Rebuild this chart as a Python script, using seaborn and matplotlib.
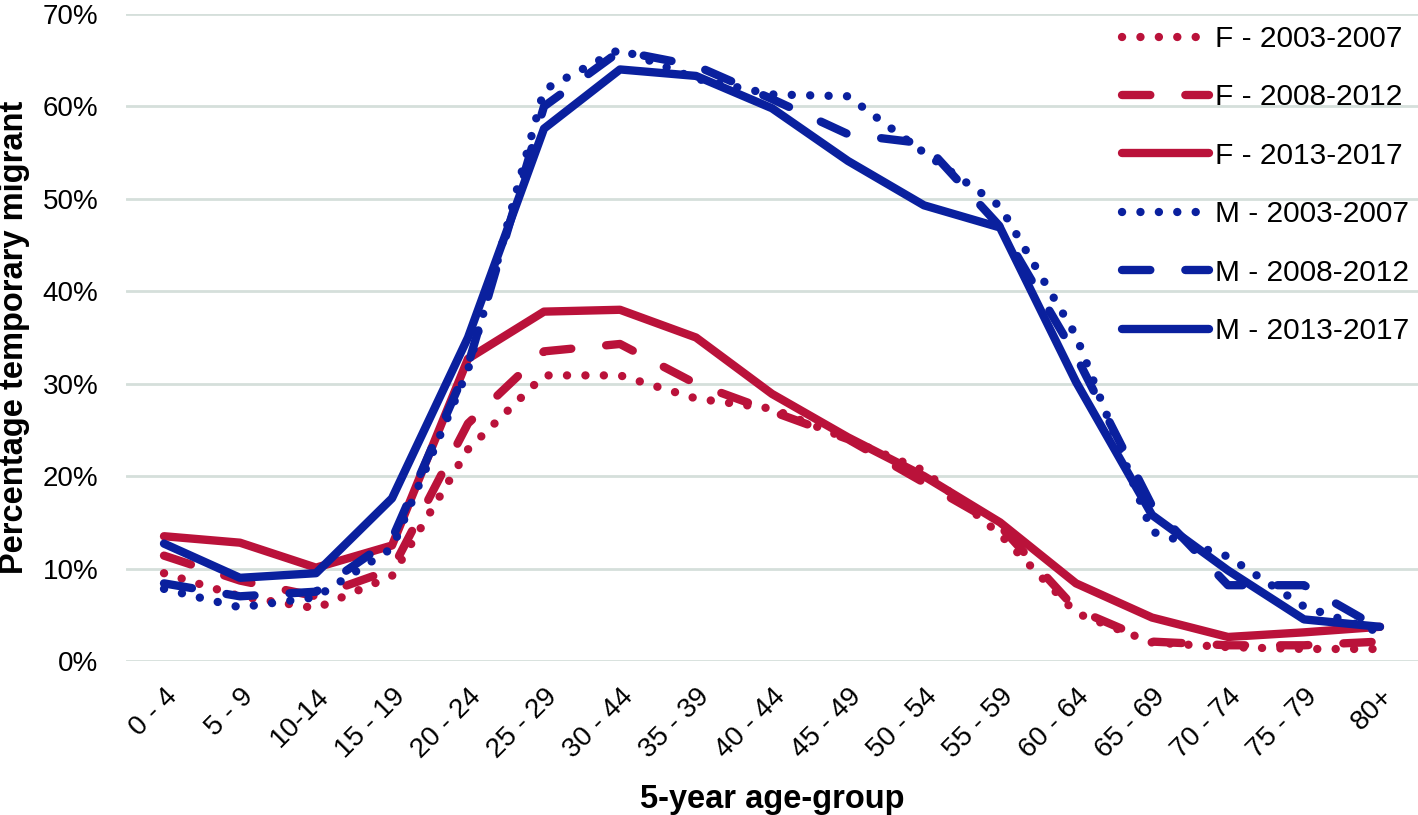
import pandas as pd
import matplotlib
matplotlib.use('Agg')
import matplotlib.pyplot as plt
import seaborn as sns

# Age groups (x axis) - labels as they appear in the source chart
ages = ['0 - 4', '5 - 9', '10-14', '15 - 19', '20 - 24', '25 - 29', '30 - 44',
        '35 - 39', '40 - 44', '45 - 49', '50 - 54', '55 - 59', '60 - 64',
        '65 - 69', '70 - 74', '75 - 79', '80+']

# Percentage temporary migrant
f_2003_2007 = [9.5, 7.0, 5.7, 9.2, 22.9, 30.9, 30.9, 28.4, 27.3, 24.0, 20.6, 13.7, 5.2, 2.0, 1.5, 1.3, 1.3]
f_2008_2012 = [11.4, 8.7, 7.0, 9.9, 25.7, 33.5, 34.3, 30.0, 27.0, 24.0, 19.3, 14.6, 5.6, 2.1, 1.7, 1.7, 2.1]
f_2013_2017 = [13.5, 12.8, 10.1, 12.5, 32.7, 37.8, 38.0, 35.0, 28.9, 24.2, 20.0, 15.0, 8.4, 4.7, 2.6, 3.1, 3.7]
m_2003_2007 = [7.8, 5.8, 6.9, 12.2, 31.5, 61.8, 66.2, 63.0, 61.3, 61.1, 55.0, 49.2, 35.2, 14.0, 11.3, 5.9, 3.1]
m_2008_2012 = [8.4, 7.0, 7.5, 13.2, 32.0, 60.0, 66.0, 64.4, 60.8, 57.0, 56.0, 47.0, 33.0, 16.8, 8.2, 8.2, 3.5]
m_2013_2017 = [12.7, 9.0, 9.5, 17.6, 35.0, 57.6, 64.0, 63.3, 59.8, 54.1, 49.3, 46.9, 30.2, 15.8, 9.8, 4.5, 3.7]

series_names = ['F - 2003-2007', 'F - 2008-2012', 'F - 2013-2017',
                'M - 2003-2007', 'M - 2008-2012', 'M - 2013-2017']
series_values = [f_2003_2007, f_2008_2012, f_2013_2017,
                 m_2003_2007, m_2008_2012, m_2013_2017]

# long-form table for seaborn
rows = []
for name, vals in zip(series_names, series_values):
    for age, v in zip(ages, vals):
        rows.append({'age': age, 'pct': v, 'series': name})
df = pd.DataFrame(rows)

red = '#BA123A'
blue = '#0A209E'
palette = {'F - 2003-2007': red, 'F - 2008-2012': red, 'F - 2013-2017': red,
           'M - 2003-2007': blue, 'M - 2008-2012': blue, 'M - 2013-2017': blue}
dots = (0.01, 2.2)
dash = (3.4, 4.2)
dashes = {'F - 2003-2007': dots, 'F - 2008-2012': dash, 'F - 2013-2017': '',
          'M - 2003-2007': dots, 'M - 2008-2012': dash, 'M - 2013-2017': ''}

sns.set_style('white')
plt.rcParams['font.family'] = ['Liberation Sans', 'DejaVu Sans']
plt.rcParams['text.color'] = 'black'
plt.rcParams['axes.labelcolor'] = 'black'
plt.rcParams['xtick.color'] = 'black'
plt.rcParams['ytick.color'] = 'black'
plt.rcParams['lines.dash_capstyle'] = 'round'
plt.rcParams['lines.solid_capstyle'] = 'round'
plt.rcParams['lines.solid_joinstyle'] = 'round'
plt.rcParams['lines.dash_joinstyle'] = 'round'

fig = plt.figure(figsize=(14.18, 8.15), dpi=100)
ax = fig.add_axes([126 / 1418, 1 - 661 / 815, 1 - 126 / 1418, 647 / 815])

sns.lineplot(data=df, x='age', y='pct', hue='series', style='series',
             hue_order=series_names, style_order=series_names,
             palette=palette, dashes=dashes, linewidth=6.0,
             sort=False, legend=False, ax=ax)

ax.set_xlim(-0.5, len(ages) - 0.5)
ax.set_ylim(0, 70)
ax.set_yticks(range(0, 71, 10))
ax.set_yticklabels([f'{v}%' for v in range(0, 71, 10)])
ax.set_xticks(range(len(ages)))
ax.set_xticklabels(ages, rotation=45, ha='right', va='top', rotation_mode='anchor')
ax.tick_params(axis='y', length=0, pad=20, labelsize=20, labelcolor='black')
ax.tick_params(axis='x', length=0, pad=16, labelsize=20, labelcolor='black')

ax.grid(axis='y', color='#d5dfdb', linewidth=2)
ax.grid(axis='x', visible=False)
ax.set_axisbelow(True)
for s in ax.spines.values():
    s.set_visible(False)

ax.set_xlabel('5-year age-group', fontsize=23.5, fontweight='bold', color='black')
ax.set_ylabel('Percentage temporary migrant', fontsize=23.5, fontweight='bold', color='black')
ax.xaxis.set_label_coords(0.5, -0.19)
ax.yaxis.set_label_coords(-0.074, 0.5)

handles = ax.get_lines()[:len(series_names)]
fig.legend(handles, series_names, loc='upper left',
           bbox_to_anchor=(1122 / 1418, 1 - 25 / 815),
           frameon=False, fontsize=21.5, handlelength=2.9,
           handletextpad=0.2, labelspacing=1.02,
           borderpad=0, borderaxespad=0)

fig.savefig('out.png', dpi=100)
